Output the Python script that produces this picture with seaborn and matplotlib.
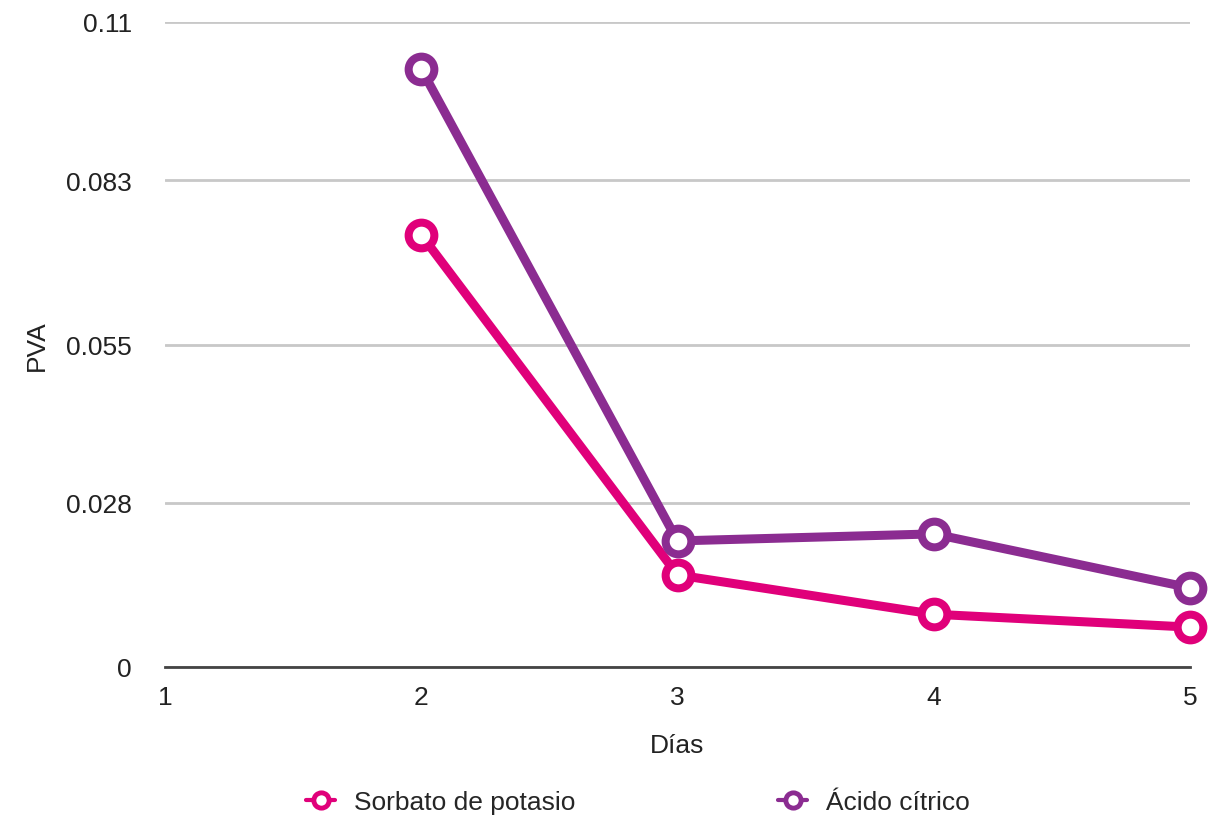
import matplotlib
matplotlib.use("Agg")
import matplotlib.pyplot as plt
import seaborn as sns
import pandas as pd
from matplotlib.lines import Line2D

dias = [2, 3, 4, 5]
sorbato = [0.0737, 0.0157, 0.0090, 0.0068]
acido = [0.1020, 0.0215, 0.0227, 0.0135]
series_names = ["Sorbato de potasio", "Ácido cítrico"]
colors = ["#E0007A", "#8B2C91"]
yticks = [0, 0.028, 0.055, 0.083, 0.11]
ytick_labels = ["0", "0.028", "0.055", "0.083", "0.11"]
xticks = [1, 2, 3, 4, 5]

df = pd.DataFrame({
    "Días": dias * 2,
    "PVA": sorbato + acido,
    "serie": [series_names[0]] * len(dias) + [series_names[1]] * len(dias),
})

sns.set_theme(style="white")
plt.rcParams["font.family"] = ["Liberation Sans", "DejaVu Sans"]

fig = plt.figure(figsize=(12.1, 8.2), dpi=100)
ax = fig.add_axes([165 / 1210, 1 - 668 / 820, (1190 - 165) / 1210, (668 - 23) / 820])

sns.lineplot(data=df, x="Días", y="PVA", hue="serie", palette=colors,
             hue_order=series_names, ax=ax, linewidth=6.5, marker="o",
             markersize=18.5, markerfacecolor="white", markeredgewidth=5.8,
             legend=False, zorder=3)
for line in ax.lines:
    line.set_markeredgecolor(line.get_color())
    line.set_clip_on(False)

ax.set_xlim(1, 5)
ax.set_ylim(0, 0.11)
ax.set_xticks(xticks)
ax.set_xticklabels([str(x) for x in xticks])
ax.set_yticks(yticks)
ax.set_yticklabels(ytick_labels)
ax.tick_params(axis="both", length=0, labelsize=19, colors="#222222")
ax.tick_params(axis="x", pad=13)
ax.tick_params(axis="y", pad=24)
ax.grid(axis="y", color="#C8C8C8", linewidth=2)
ax.set_axisbelow(True)
for s in ["left", "right", "top"]:
    ax.spines[s].set_visible(False)
ax.spines["bottom"].set_color("#444444")
ax.spines["bottom"].set_linewidth(2)
ax.spines["bottom"].set_zorder(2)

ax.set_xlabel("Días", fontsize=19, color="#222222", labelpad=17)
ax.set_ylabel("PVA", fontsize=19, color="#222222", labelpad=12)

handles = [Line2D([0], [0], color=c, linewidth=3, marker="o", markersize=11,
                  markerfacecolor="white", markeredgewidth=3.5, markeredgecolor=c)
           for c in colors]
fig.legend(handles, series_names, loc="center", bbox_to_anchor=(0.527, 1 - 803 / 820),
           ncol=2, frameon=False, fontsize=19, handlelength=1.1, handletextpad=0.7,
           columnspacing=7.7)

fig.savefig("out.png", dpi=100)
